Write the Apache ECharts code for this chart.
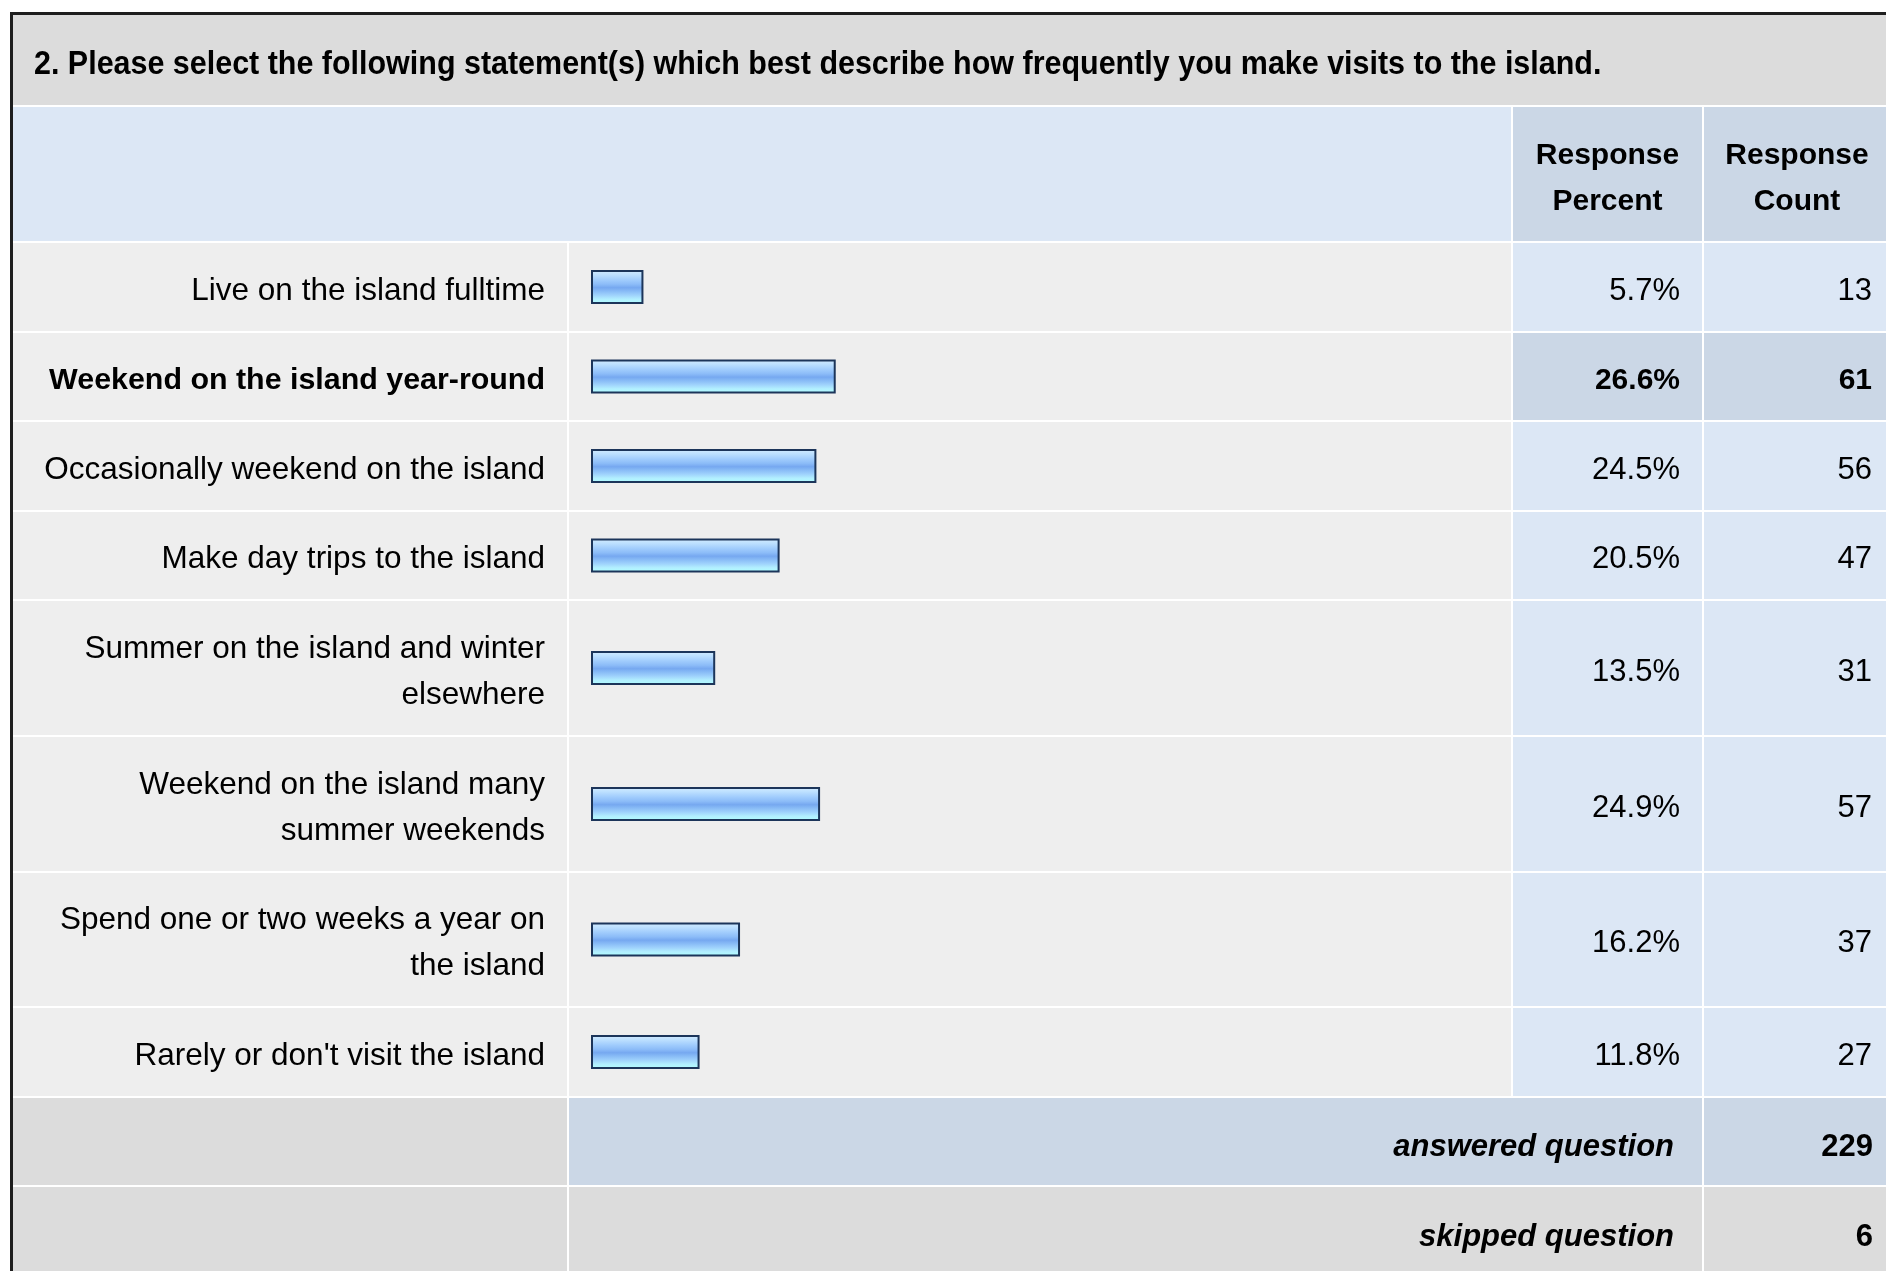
<!DOCTYPE html>
<html>
<head>
<meta charset="utf-8">
<script src="https://cdn.jsdelivr.net/npm/echarts@6/dist/echarts.min.js"></script>
<style>
  html, body { margin: 0; padding: 0; background: #fff; }
  #chart { width: 1886px; height: 1271px; }
</style>
</head>
<body>
<div id="chart"></div>
<script>
// survey data
const questionTitle = "2. Please select the following statement(s) which best describe how frequently you make visits to the island.";
const categories = [
    "Live on the island fulltime",
    "Weekend on the island year-round",
    "Occasionally weekend on the island",
    "Make day trips to the island",
    "Summer on the island and winter\nelsewhere",
    "Weekend on the island many\nsummer weekends",
    "Spend one or two weeks a year on\nthe island",
    "Rarely or don't visit the island"
];
const responsePercent = [5.7, 26.6, 24.5, 20.5, 13.5, 24.9, 16.2, 11.8];
const responseCount = [13, 61, 56, 47, 31, 57, 37, 27];
const headerLabels = ["Response\nPercent", "Response\nCount"];
const answeredQuestion = 229;
const skippedQuestion = 6;

const FONT = '"Liberation Sans", Arial, Helvetica, sans-serif';

// column edges
const colLabel = [13, 567];
const colBar = [569, 1511];
const colPct = [1513, 1702];
const colCnt = [1704, 1900];
const GAP = 2;

// row layout
const titleRow = [15, 105];
const headerRow = [107, 241];
let rows = [];
let y = 243;
categories.forEach(c => {
    const h = c.split("\n").length > 1 ? 133.6 : 87.6;
    rows.push([Math.round(y), Math.round(y + h)]);
    y += h + GAP;
});
const answeredRow = [Math.round(y), Math.round(y + 87.6)];
y += 87.6 + GAP;
const skippedRow = [Math.round(y), 1300];

const maxIdx = responsePercent.indexOf(Math.max(...responsePercent));

const rect = (x0, x1, y0, y1, color) => ({
    type: "rect",
    z: -10,
    silent: true,
    shape: { x: x0, y: y0, width: x1 - x0, height: y1 - y0 },
    style: { fill: color }
});

const txt = (x, yy, text, opts) => ({
    type: "text",
    z: 10,
    silent: true,
    x: x,
    y: yy,
    scaleX: opts.scaleX || 1,
    style: {
        x: 0,
        y: 0,
        text: text,
        fill: "#000",
        font: opts.font,
        align: opts.align || "right",
        textAlign: opts.align || "right",
        verticalAlign: "middle",
        textVerticalAlign: "middle",
        lineHeight: opts.lineHeight || undefined
    }
});

const mid = r => (r[0] + r[1]) / 2;

let graphics = [];
// outer border
graphics.push(rect(10, 13, 12, 1300, "#1e1e1e"));
graphics.push(rect(10, 1900, 12, 15, "#1e1e1e"));
// title band
graphics.push(rect(13, 1900, titleRow[0], titleRow[1], "#dcdcdc"));
// header
graphics.push(rect(colLabel[0], colBar[1], headerRow[0], headerRow[1], "#dce7f5"));
graphics.push(rect(colPct[0], colPct[1], headerRow[0], headerRow[1], "#cbd7e6"));
graphics.push(rect(colCnt[0], colCnt[1], headerRow[0], headerRow[1], "#cbd7e6"));
// body rows
rows.forEach((r, i) => {
    const valColor = i === maxIdx ? "#cbd7e6" : "#dce7f5";
    graphics.push(rect(colLabel[0], colLabel[1], r[0], r[1], "#eeeeee"));
    graphics.push(rect(colBar[0], colBar[1], r[0], r[1], "#eeeeee"));
    graphics.push(rect(colPct[0], colPct[1], r[0], r[1], valColor));
    graphics.push(rect(colCnt[0], colCnt[1], r[0], r[1], valColor));
});
// summary rows
graphics.push(rect(colLabel[0], colLabel[1], answeredRow[0], answeredRow[1], "#dcdcdc"));
graphics.push(rect(colBar[0], colPct[1], answeredRow[0], answeredRow[1], "#cbd7e6"));
graphics.push(rect(colCnt[0], colCnt[1], answeredRow[0], answeredRow[1], "#cbd7e6"));
graphics.push(rect(colLabel[0], colLabel[1], skippedRow[0], skippedRow[1], "#dcdcdc"));
graphics.push(rect(colBar[0], colPct[1], skippedRow[0], skippedRow[1], "#dcdcdc"));
graphics.push(rect(colCnt[0], colCnt[1], skippedRow[0], skippedRow[1], "#dcdcdc"));

// texts
graphics.push(txt(34, 65, questionTitle, { font: "bold 33px " + FONT, align: "left", scaleX: 0.923 }));
graphics.push(txt(mid(colPct), 178.5, headerLabels[0], { font: "bold 30px " + FONT, align: "center", lineHeight: 46 }));
graphics.push(txt(mid([1704, 1890]), 178.5, headerLabels[1], { font: "bold 30px " + FONT, align: "center", lineHeight: 46 }));
rows.forEach((r, i) => {
    const bold = i === maxIdx;
    graphics.push(txt(545, mid(r) + 4, categories[i], {
        font: (bold ? "bold 30.4px " : "31.5px ") + FONT,
        lineHeight: 46
    }));
    const f = bold ? "bold 30px " : "31px ";
    graphics.push(txt(1680, mid(r) + 4, responsePercent[i].toFixed(1) + "%", { font: f + FONT }));
    graphics.push(txt(1872, mid(r) + 4, String(responseCount[i]), { font: f + FONT }));
});
const skipMid = mid([skippedRow[0], skippedRow[0] + 88]);
graphics.push(txt(1674, mid(answeredRow) + 6, "answered question", { font: "italic bold 31px " + FONT }));
graphics.push(txt(1873, mid(answeredRow) + 6, String(answeredQuestion), { font: "bold 31px " + FONT }));
graphics.push(txt(1674, skipMid + 6, "skipped question", { font: "italic bold 31px " + FONT }));
graphics.push(txt(1873, skipMid + 6, String(skippedQuestion), { font: "bold 31px " + FONT }));

// one grid per row so tall rows keep their height
const barColor = new echarts.graphic.LinearGradient(0, 0, 0, 1, [
    { offset: 0, color: "#d4ecff" },
    { offset: 0.14, color: "#bde0ff" },
    { offset: 0.28, color: "#a3cefd" },
    { offset: 0.42, color: "#8cbcf8" },
    { offset: 0.52, color: "#76a8f0" },
    { offset: 0.62, color: "#88bbf6" },
    { offset: 0.74, color: "#9fd2fc" },
    { offset: 0.86, color: "#b2efff" },
    { offset: 1, color: "#b0ffff" }
]);

const grids = rows.map(r => ({
    left: 591,
    width: 920,
    top: r[0],
    height: r[1] - r[0],
    outerBoundsMode: "none",
    containLabel: false
}));
const xAxes = rows.map((r, i) => ({
    type: "value",
    gridIndex: i,
    min: 0,
    max: 100,
    show: false
}));
// category labels are drawn as table text, axis itself stays hidden
const yAxes = rows.map((r, i) => ({
    type: "category",
    gridIndex: i,
    data: [categories[i]],
    show: false
}));
const series = rows.map((r, i) => ({
    type: "bar",
    xAxisIndex: i,
    yAxisIndex: i,
    data: [responsePercent[i]],
    barWidth: 34,
    silent: true,
    itemStyle: {
        color: barColor,
        borderColor: "#1c355a",
        borderWidth: 2
    }
}));

const chart = echarts.init(document.getElementById("chart"));
chart.setOption({
    backgroundColor: "#ffffff",
    animation: false,
    grid: grids,
    xAxis: xAxes,
    yAxis: yAxes,
    series: series,
    graphic: { elements: graphics }
});
window.addEventListener("resize", () => chart.resize());
</script>
</body>
</html>
